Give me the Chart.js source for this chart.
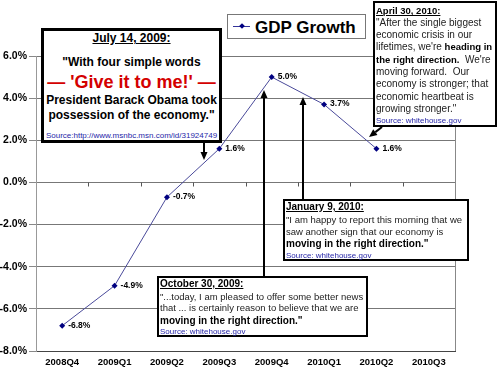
<!DOCTYPE html>
<html>
<head>
<meta charset="utf-8">
<script src="https://cdn.jsdelivr.net/npm/chart.js@4.4.1/dist/chart.umd.min.js"></script>
<style>
  body { margin: 0; background: #fff; }
  #wrap { position: relative; width: 500px; height: 370px; font-family: Arial, 'Liberation Sans', sans-serif; }
  canvas { position: absolute; left: 0; top: 0; }
  .box { position: absolute; box-sizing: border-box; background: #fff; border: 2px solid #000; }
  .t { position: absolute; white-space: nowrap; line-height: 14px; height: 14px; color: #222; font-size: 9.5px; }
  .b { font-weight: bold; color: #000; }
  .u { text-decoration: underline; }
  .src { color: #2626a8; font-size: 8px; }
  .c { text-align: center; }
  .apr { font-size: 10px; }
  .apr .b { font-size: 9.5px; }
</style>
</head>
<body>
<div id="wrap">
  <canvas id="gdp" width="500" height="370"></canvas>

  <!-- legend -->
  <div class="box" style="left:227px;top:14px;width:139px;height:25px;border:1px solid #777;"></div>
  <div style="position:absolute;left:233px;top:26px;width:17px;height:1px;background:#333399;"></div>
  <div style="position:absolute;left:239.5px;top:24px;width:4px;height:4px;background:#000080;transform:rotate(45deg);"></div>
  <div class="t b" style="left:255px;top:18px;height:20px;line-height:20px;font-size:17px;">GDP Growth</div>

  <!-- July 14, 2009 -->
  <div class="box" style="left:41px;top:28px;width:181px;height:115px;border-width:3px;"></div>
  <div class="t b u c" style="left:41px;width:181px;top:31px;font-size:12px;">July 14, 2009:</div>
  <div class="t b c" style="left:41px;width:181px;top:55px;font-size:12px;">"With four simple words</div>
  <div class="t b c" style="left:41px;width:181px;top:71px;height:22px;line-height:22px;font-size:18px;color:#d40000;">— 'Give it to me!' —</div>
  <div class="t b c" style="left:41px;width:181px;top:93px;font-size:12px;">President Barack Obama took</div>
  <div class="t b c" style="left:41px;width:181px;top:108px;font-size:12px;">possession of the economy."</div>
  <div class="t src c" style="left:41px;width:181px;top:129px;">Source:http://www.msnbc.msn.com/id/31924749</div>

  <!-- April 30, 2010 -->
  <div class="box" style="left:373px;top:1px;width:124px;height:126px;"></div>
  <div class="t b u" style="left:376px;top:4px;font-size:9.5px;">April 30, 2010:</div>
  <div class="t apr" style="left:376px;top:16px;">"After the single biggest</div>
  <div class="t apr" style="left:376px;top:28px;">economic crisis in our</div>
  <div class="t apr" style="left:376px;top:40px;">lifetimes, we're <span class="b">heading in</span></div>
  <div class="t apr" style="left:376px;top:53px;"><span class="b">the right direction.</span>&nbsp; We're</div>
  <div class="t apr" style="left:376px;top:65px;">moving forward.&nbsp; Our</div>
  <div class="t apr" style="left:376px;top:77px;">economy is stronger; that</div>
  <div class="t apr" style="left:376px;top:90px;">economic heartbeat is</div>
  <div class="t apr" style="left:376px;top:102px;">growing stronger."</div>
  <div class="t src" style="left:376px;top:114px;">Source: whitehouse.gov</div>

  <!-- January 9, 2010 -->
  <div class="box" style="left:283px;top:199px;width:186px;height:62px;"></div>
  <div class="t b u" style="left:286px;top:200px;font-size:10px;">January 9, 2010:</div>
  <div class="t" style="left:286px;top:213px;">"I am happy to report this morning that we</div>
  <div class="t" style="left:286px;top:225px;">saw another sign that our economy is</div>
  <div class="t b" style="left:286px;top:237px;font-size:10px;">moving in the right direction."</div>
  <div class="t src" style="left:286px;top:249px;">Source: whitehouse.gov</div>

  <!-- October 30, 2009 -->
  <div class="box" style="left:157px;top:276px;width:211px;height:61px;"></div>
  <div class="t b u" style="left:160px;top:277px;font-size:10px;">October 30, 2009:</div>
  <div class="t" style="left:160px;top:290px;">"...today, I am pleased to offer some better news</div>
  <div class="t" style="left:160px;top:301px;">that ... is certainly reason to believe that we are</div>
  <div class="t b" style="left:160px;top:314px;font-size:10px;">moving in the right direction."</div>
  <div class="t src" style="left:160px;top:325px;">Source: whitehouse.gov</div>
</div>

<script>
// data
var quarters = ['2008Q4', '2009Q1', '2009Q2', '2009Q3', '2009Q4', '2010Q1', '2010Q2', '2010Q3'];
var gdpGrowth = [-6.8, -4.9, -0.7, 1.6, 5.0, 3.7, 1.6, null];
var yMin = -8, yMax = 6, yStep = 2;

var FONT = "Arial, 'Liberation Sans', sans-serif";

// value labels right of each point
var pointLabels = {
  id: 'pointLabels',
  afterDatasetsDraw: function (chart) {
    var ctx = chart.ctx;
    var meta = chart.getDatasetMeta(0);
    ctx.save();
    ctx.font = 'bold 8.5px ' + FONT;
    ctx.fillStyle = '#000';
    ctx.textBaseline = 'middle';
    meta.data.forEach(function (pt, i) {
      var v = gdpGrowth[i];
      if (v === null) return;
      ctx.fillText(v.toFixed(1) + '%', pt.x + 6, pt.y - 0.5);
    });
    ctx.restore();
  }
};

// plot frame, small category ticks on the zero line, arrows
var decor = {
  id: 'decor',
  beforeDatasetsDraw: function (chart) {
    var ctx = chart.ctx, a = chart.chartArea;
    var xs = chart.scales.x, ys = chart.scales.y;
    ctx.save();
    ctx.strokeStyle = '#888';
    ctx.lineWidth = 1;
    ctx.beginPath();
    ctx.moveTo(Math.round(a.right) + 0.5, a.top);
    ctx.lineTo(Math.round(a.right) + 0.5, a.bottom);
    ctx.stroke();

    var y0 = Math.round(ys.getPixelForValue(0)) + 0.5;
    ctx.strokeStyle = '#555';
    ctx.beginPath();
    for (var i = 1; i < quarters.length; i++) {
      var x = Math.round(xs.getPixelForValue(i - 0.5)) + 0.5;
      ctx.moveTo(x, y0);
      ctx.lineTo(x, y0 + 4);
    }
    ctx.stroke();
    ctx.restore();
  },
  afterDraw: function (chart) {
    var ctx = chart.ctx;
    function arrow(x1, y1, x2, y2) {
      var ang = Math.atan2(y2 - y1, x2 - x1);
      var hl = 8, hw = 3.5;
      var bx = x2 - hl * Math.cos(ang), by = y2 - hl * Math.sin(ang);
      ctx.beginPath();
      ctx.moveTo(x1, y1);
      ctx.lineTo(bx, by);
      ctx.stroke();
      ctx.beginPath();
      ctx.moveTo(x2, y2);
      ctx.lineTo(bx + hw * Math.sin(ang), by - hw * Math.cos(ang));
      ctx.lineTo(bx - hw * Math.sin(ang), by + hw * Math.cos(ang));
      ctx.closePath();
      ctx.fill();
    }
    ctx.save();
    ctx.strokeStyle = '#000';
    ctx.fillStyle = '#000';
    ctx.lineWidth = 2;
    arrow(204, 143, 204, 160);
    arrow(264, 276, 264, 90);
    arrow(303, 199, 303, 97);
    arrow(382, 127, 369, 137);
    ctx.restore();
  }
};

new Chart(document.getElementById('gdp'), {
  type: 'line',
  data: {
    labels: quarters,
    datasets: [{
      label: 'GDP Growth',
      data: gdpGrowth,
      borderColor: '#4a4a9a',
      borderWidth: 1,
      pointStyle: 'rectRot',
      pointRadius: 3,
      pointBackgroundColor: '#000080',
      pointBorderColor: '#000080',
      pointBorderWidth: 0,
      tension: 0,
      spanGaps: false
    }]
  },
  options: {
    responsive: false,
    animation: false,
    layout: { padding: { top: 56, right: 45, left: 0, bottom: 0 } },
    plugins: {
      legend: { display: false },
      tooltip: { enabled: false }
    },
    scales: {
      x: {
        offset: true,
        grid: { display: false, drawTicks: false },
        border: { display: true, color: '#444', width: 1 },
        ticks: {
          color: '#000',
          padding: 6,
          maxRotation: 0,
          font: { family: FONT, size: 9.5, weight: 'bold' }
        },
        afterFit: function (s) { s.height = 19; }
      },
      y: {
        min: yMin,
        max: yMax,
        ticks: {
          stepSize: yStep,
          color: '#000',
          padding: 2,
          font: { family: FONT, size: 10.5, weight: 'bold' },
          callback: function (v) { return v.toFixed(1) + '%'; }
        },
        grid: { color: '#777', lineWidth: 1, tickLength: 7, tickColor: '#888' },
        border: { display: true, color: '#999', width: 1 },
        afterFit: function (s) { s.width = 36; }
      }
    }
  },
  plugins: [decor, pointLabels]
});
</script>
</body>
</html>
